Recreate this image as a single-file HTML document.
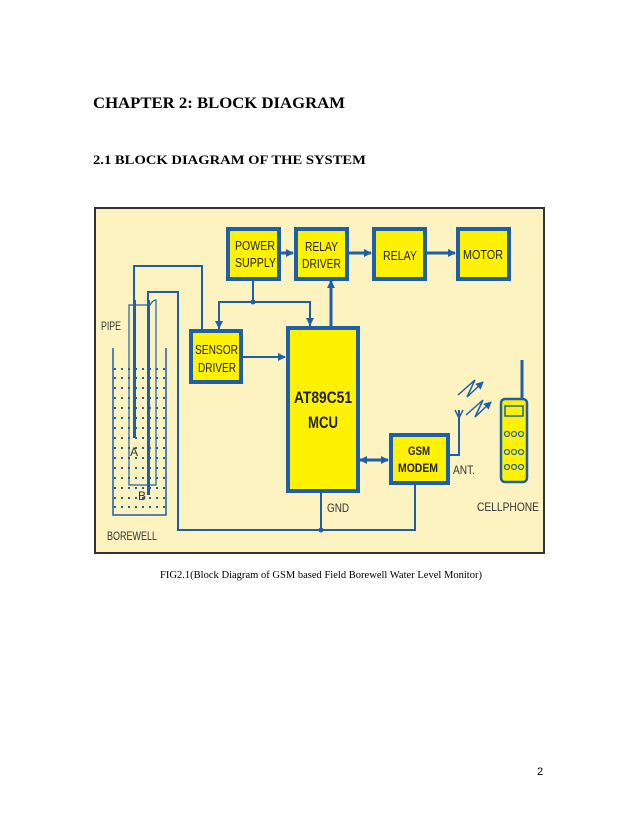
<!DOCTYPE html>
<html><head><meta charset="utf-8"><style>body{margin:0;background:#fff}svg{display:block}</style></head><body>
<svg width="638" height="826" viewBox="0 0 638 826" xmlns="http://www.w3.org/2000/svg">
<defs><marker id="a" markerWidth="8" markerHeight="8" refX="7" refY="4" orient="auto" markerUnits="userSpaceOnUse"><path d="M0,0 L8,4 L0,8 z" fill="#1f5ea8"/></marker></defs>
<g font-family="Liberation Serif, serif" font-weight="bold" fill="#000">
<text x="93" y="108" font-size="16" textLength="252" lengthAdjust="spacingAndGlyphs">CHAPTER 2: BLOCK DIAGRAM</text>
<text x="93" y="164" font-size="12.5" textLength="273" lengthAdjust="spacingAndGlyphs">2.1 BLOCK DIAGRAM OF THE SYSTEM</text>
</g>
<text x="160" y="578" font-family="Liberation Serif, serif" font-size="10" textLength="322" lengthAdjust="spacingAndGlyphs">FIG2.1(Block Diagram of GSM based Field Borewell Water Level Monitor)</text>
<text x="537" y="775" font-family="Liberation Sans, sans-serif" font-size="11">2</text>
<rect x="95" y="208" width="449" height="345" fill="#fdf3c0" stroke="#333" stroke-width="2"/>
<g stroke="#1f5ea8" stroke-width="2" fill="none">
<line x1="280" y1="253" x2="293" y2="253" marker-end="url(#a)" stroke-width="3"/>
<line x1="348" y1="253" x2="371" y2="253" marker-end="url(#a)" stroke-width="3"/>
<line x1="426" y1="253" x2="455" y2="253" marker-end="url(#a)" stroke-width="3"/>
<polyline points="253,280 253,302"/>
<polyline points="219,329 219,302 310,302 310,326" />
<line x1="219" y1="310" x2="219" y2="328" marker-end="url(#a)"/>
<line x1="310" y1="310" x2="310" y2="325" marker-end="url(#a)"/>
<line x1="331" y1="326" x2="331" y2="281" marker-end="url(#a)" stroke-width="3"/>
<line x1="242" y1="357" x2="285" y2="357" marker-end="url(#a)"/>
<line x1="372" y1="460" x2="388" y2="460" marker-end="url(#a)" stroke-width="3"/>
<line x1="376" y1="460" x2="360" y2="460" marker-end="url(#a)" stroke-width="3"/>
<polyline points="202,329 202,266 134,266 134,438"/>
<polyline points="148,495 148,292 178,292 178,530 415,530 415,484"/>
<line x1="321" y1="493" x2="321" y2="530"/>
<polyline points="113,348 113,515 166,515 166,348" stroke-width="1.5"/>
<path d="M129,485 L129,305 L150,305 Q153,300 156,300 L156,485 Z" stroke-width="1.2"/>
<polyline points="449,455 459,455 459,410"/>
<path d="M455,410 L459,418 L463,410" stroke-width="1.5"/>
<path d="M458,395 L475,380 L467,397 L483,382" stroke-width="1.5" marker-end="url(#a)"/>
<path d="M466,415 L483,400 L475,417 L491,402" stroke-width="1.5" marker-end="url(#a)"/>
<line x1="522" y1="360" x2="522" y2="398" stroke-width="3"/>
</g>
<g fill="#1f5ea8"><circle cx="253" cy="302" r="2.5"/><circle cx="321" cy="530" r="2.5"/>
<rect x="133" y="300" width="3" height="138"/><rect x="147" y="300" width="3" height="195"/></g>
<g fill="#fff200" stroke="#1f5ea8" stroke-width="4">
<rect x="228" y="229" width="51" height="50"/><rect x="296" y="229" width="51" height="50"/>
<rect x="374" y="229" width="51" height="50"/><rect x="458" y="229" width="51" height="50"/>
<rect x="191" y="331" width="50" height="51"/><rect x="288" y="328" width="70" height="163"/>
<rect x="391" y="435" width="57" height="48"/>
<rect x="501" y="399" width="26" height="83" rx="4" stroke-width="2.5"/>
</g>
<rect x="505" y="406" width="18" height="10" fill="#fff200" stroke="#1f5ea8" stroke-width="1.5"/>
<g fill="none" stroke="#1f5ea8" stroke-width="1.2">
<circle cx="507" cy="434" r="2.5"/><circle cx="514" cy="434" r="2.5"/><circle cx="521" cy="434" r="2.5"/>
<circle cx="507" cy="452" r="2.5"/><circle cx="514" cy="452" r="2.5"/><circle cx="521" cy="452" r="2.5"/>
<circle cx="507" cy="467" r="2.5"/><circle cx="514" cy="467" r="2.5"/><circle cx="521" cy="467" r="2.5"/>
</g>
<g font-family="Liberation Sans, sans-serif" font-size="13" fill="#222" lengthAdjust="spacingAndGlyphs">
<text x="235" y="250" textLength="40" lengthAdjust="spacingAndGlyphs">POWER</text><text x="235" y="267" textLength="41" lengthAdjust="spacingAndGlyphs">SUPPLY</text>
<text x="305" y="251" textLength="33" lengthAdjust="spacingAndGlyphs">RELAY</text><text x="302" y="268" textLength="39" lengthAdjust="spacingAndGlyphs">DRIVER</text>
<text x="383" y="260" textLength="34" lengthAdjust="spacingAndGlyphs">RELAY</text><text x="463" y="259" textLength="40" lengthAdjust="spacingAndGlyphs">MOTOR</text>
<text x="195" y="354" textLength="43" lengthAdjust="spacingAndGlyphs">SENSOR</text><text x="198" y="372" textLength="38" lengthAdjust="spacingAndGlyphs">DRIVER</text>
<text x="294" y="403" font-size="17" font-weight="bold" textLength="58" lengthAdjust="spacingAndGlyphs">AT89C51</text><text x="308" y="428" font-size="17" font-weight="bold" textLength="30" lengthAdjust="spacingAndGlyphs">MCU</text>
<text x="408" y="455" font-weight="bold" font-size="12" textLength="22" lengthAdjust="spacingAndGlyphs">GSM</text><text x="398" y="472" font-weight="bold" font-size="12" textLength="40" lengthAdjust="spacingAndGlyphs">MODEM</text>
</g>
<g font-family="Liberation Sans, sans-serif" font-size="12" fill="#333">
<text x="101" y="330" textLength="20" lengthAdjust="spacingAndGlyphs">PIPE</text><text x="107" y="540" textLength="50" lengthAdjust="spacingAndGlyphs">BOREWELL</text><text x="327" y="512" textLength="22" lengthAdjust="spacingAndGlyphs">GND</text>
<text x="453" y="474" textLength="22" lengthAdjust="spacingAndGlyphs">ANT.</text><text x="477" y="511" textLength="62" lengthAdjust="spacingAndGlyphs">CELLPHONE</text>
<text x="130" y="456">A</text><text x="138" y="500">B</text>
</g>
<g stroke="#1f5ea8" stroke-width="2" stroke-dasharray="2,5">
<line x1="114" y1="369" x2="166" y2="369"/><line x1="114" y1="378" x2="166" y2="378"/>
<line x1="114" y1="388" x2="166" y2="388"/><line x1="114" y1="398" x2="166" y2="398"/>
<line x1="114" y1="408" x2="166" y2="408"/><line x1="114" y1="418" x2="166" y2="418"/>
<line x1="114" y1="428" x2="166" y2="428"/><line x1="114" y1="438" x2="166" y2="438"/>
<line x1="114" y1="448" x2="166" y2="448"/><line x1="114" y1="458" x2="166" y2="458"/>
<line x1="114" y1="468" x2="166" y2="468"/><line x1="114" y1="478" x2="166" y2="478"/>
<line x1="114" y1="488" x2="166" y2="488"/><line x1="114" y1="498" x2="166" y2="498"/>
<line x1="114" y1="507" x2="166" y2="507"/>
</g>
</svg>
</body></html>
